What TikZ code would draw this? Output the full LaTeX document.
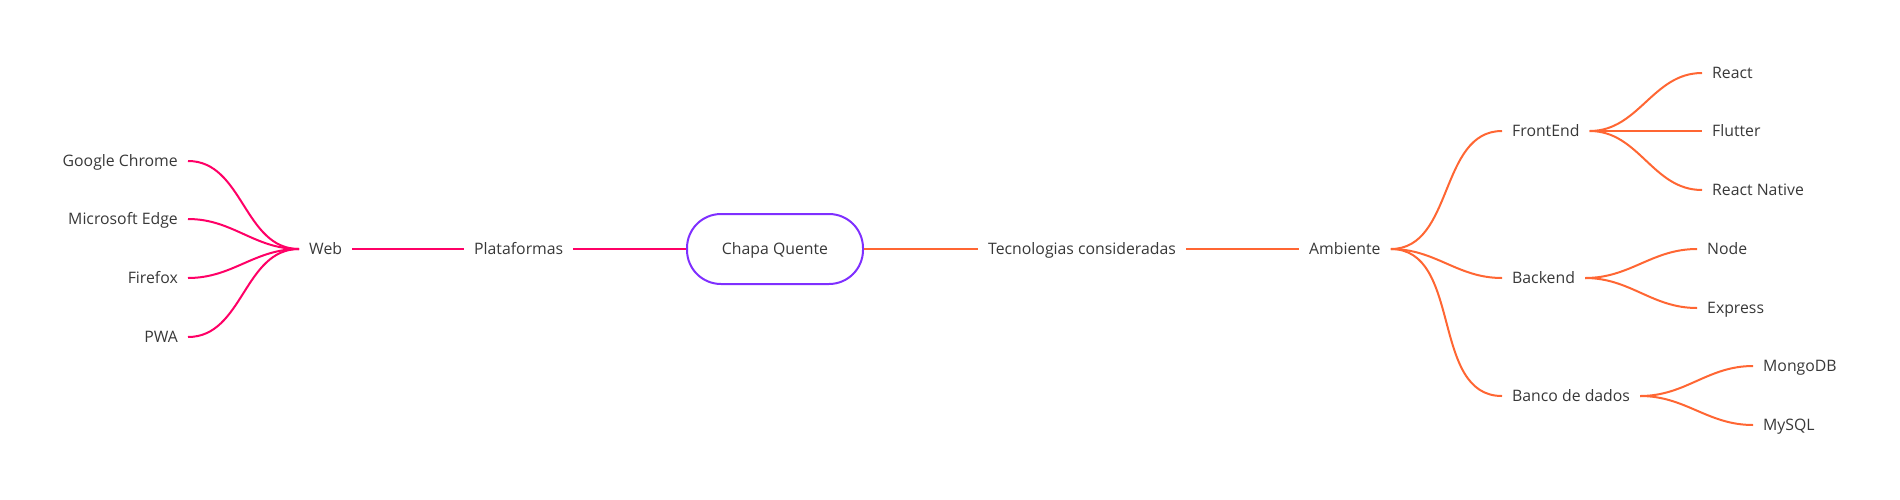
\documentclass[tikz,border=0pt]{standalone}
\usepackage{fontspec}
\setmainfont{Open Sans}
\usepackage{tikz}

\definecolor{webpink}{HTML}{FF0066}
\definecolor{techorange}{HTML}{FF6633}
\definecolor{rootpurple}{HTML}{7F2FFF}
\definecolor{labelgray}{HTML}{383838}

\tikzset{
  topic/.style={inner xsep=10pt, inner ysep=0pt, text height=11.3pt, text depth=0pt,
    text=labelgray, font=\fontsize{15.8}{19}\selectfont},
  root/.style={topic, draw=rootpurple, line width=2pt, rounded corners=34pt,
    minimum width=176pt, minimum height=70pt},
  pinkline/.style={draw=webpink, line width=2pt},
  orangeline/.style={draw=techorange, line width=2pt}
}

\begin{document}
\begin{tikzpicture}[x=1pt, y=-1pt]
\useasboundingbox (0,0) rectangle (1900,499);

\node[root] (chapa) at (775,249) {Chapa Quente};

% Plataformas
\node[topic, anchor=west] (plataformas) at (464,249) {Plataformas};
\node[topic, anchor=west] (web) at (299,249) {Web};
\node[topic, anchor=east] (chrome) at (188,161) {Google Chrome};
\node[topic, anchor=east] (edge) at (188,219) {Microsoft Edge};
\node[topic, anchor=east] (firefox) at (188,278) {Firefox};
\node[topic, anchor=east] (pwa) at (188,337) {PWA};

\draw[pinkline] (plataformas.east) -- (chapa.west);
\draw[pinkline] (web.east) -- (plataformas.west);
\foreach \leaf in {chrome,edge,firefox,pwa}
  \draw[pinkline] (\leaf.east) to[out=0, in=180] (web.west);

% Tecnologias
\node[topic, anchor=west] (tecnologias) at (978,249) {Tecnologias consideradas};
\node[topic, anchor=west] (ambiente) at (1299,249) {Ambiente};
\node[topic, anchor=west] (frontend) at (1502,131) {FrontEnd};
\node[topic, anchor=west] (backend) at (1502,278) {Backend};
\node[topic, anchor=west] (banco) at (1502,396) {Banco de dados};
\node[topic, anchor=west] (react) at (1702,73) {React};
\node[topic, anchor=west] (flutter) at (1702,131) {Flutter};
\node[topic, anchor=west] (native) at (1702,190) {React Native};
\node[topic, anchor=west] (node) at (1697,249) {Node};
\node[topic, anchor=west] (express) at (1697,308) {Express};
\node[topic, anchor=west] (mongo) at (1753,366) {MongoDB};
\node[topic, anchor=west] (mysql) at (1753,425) {MySQL};

\draw[orangeline] (chapa.east) -- (tecnologias.west);
\draw[orangeline] (tecnologias.east) -- (ambiente.west);
\foreach \area in {frontend,backend,banco}
  \draw[orangeline] (ambiente.east) to[out=0, in=180] (\area.west);
\foreach \lib in {react,flutter,native}
  \draw[orangeline] (frontend.east) to[out=0, in=180] (\lib.west);
\foreach \lib in {node,express}
  \draw[orangeline] (backend.east) to[out=0, in=180] (\lib.west);
\foreach \lib in {mongo,mysql}
  \draw[orangeline] (banco.east) to[out=0, in=180] (\lib.west);

\end{tikzpicture}
\end{document}
